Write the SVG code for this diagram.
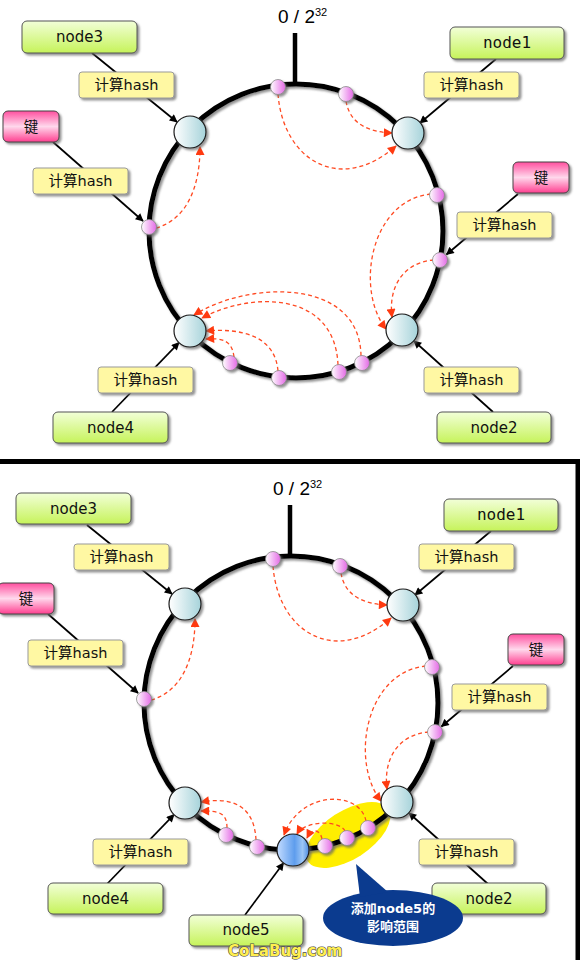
<svg xmlns="http://www.w3.org/2000/svg" width="580" height="960" viewBox="0 0 580 960">
<defs>
<linearGradient id="gg" x1="0" y1="0" x2="0" y2="1"><stop offset="0" stop-color="#f2ffd8"/><stop offset="1" stop-color="#c6f35a"/></linearGradient>
<linearGradient id="gk" x1="0" y1="0" x2="0" y2="1"><stop offset="0" stop-color="#ff4f9f"/><stop offset="0.5" stop-color="#ffd8ec"/><stop offset="1" stop-color="#ff3f90"/></linearGradient>
<linearGradient id="gc" x1="0" y1="0" x2="1" y2="0"><stop offset="0" stop-color="#ffffff"/><stop offset="1" stop-color="#a6d3da"/></linearGradient>
<linearGradient id="gb" x1="0" y1="0" x2="1" y2="0"><stop offset="0" stop-color="#c4dcff"/><stop offset="0.55" stop-color="#5e9ded"/><stop offset="0.8" stop-color="#9cc6f6"/><stop offset="1" stop-color="#4d8be0"/></linearGradient>
<linearGradient id="gp" x1="0" y1="0" x2="1" y2="0"><stop offset="0" stop-color="#ffffff"/><stop offset="1" stop-color="#e46ae6"/></linearGradient>
<filter id="ds" x="-20%" y="-20%" width="150%" height="150%"><feDropShadow dx="2" dy="2" stdDeviation="1" flood-color="#666" flood-opacity="0.7"/></filter>
<marker id="ab" viewBox="0 0 10 10" refX="9" refY="5" markerWidth="9" markerHeight="8" markerUnits="userSpaceOnUse" orient="auto"><path d="M0,0 L10,5 L0,10 z" fill="#000"/></marker>
<marker id="ar" viewBox="0 0 10 10" refX="9" refY="5" markerWidth="10" markerHeight="9" markerUnits="userSpaceOnUse" orient="auto"><path d="M0,0 L10,5 L0,10 z" fill="#ff3a10"/></marker>
</defs>
<style>
.ring{fill:none;stroke:#000;stroke-width:5}
.stick{stroke:#000;stroke-width:4.5}
.blk{fill:none;stroke:#000;stroke-width:1.7;marker-end:url(#ab)}
.red{fill:none;stroke:#ff4a22;stroke-width:1.3;stroke-dasharray:4 3;marker-end:url(#ar)}
.nc{fill:url(#gc);stroke:#1a1a1a;stroke-width:1.2}
.n5{fill:url(#gb);stroke:#1a1a1a;stroke-width:1.2}
.pk{fill:url(#gp);stroke:#8a8a8a;stroke-width:0.8}
.gbx{fill:url(#gg);stroke:#555;stroke-width:1}
.hb{fill:#fff8a3;stroke:#9a9a9a;stroke-width:1}
.kb{fill:url(#gk);stroke:#444;stroke-width:1}
.sh{filter:url(#ds)}
.t{font-family:"DejaVu Sans","Noto Sans CJK SC",sans-serif;font-size:15px;fill:#111;text-anchor:middle}
.th{font-size:14.5px}
.tm{font-family:"DejaVu Sans Mono","Liberation Mono",monospace;font-size:16px}
.zt{font-family:"Liberation Sans",Arial,sans-serif;font-size:19px;fill:#000}
</style>

<!-- panel border -->
<path d="M0,461.5 H578 V960" fill="none" stroke="#000" stroke-width="5"/>

<!-- ===== TOP DIAGRAM ===== -->
<g id="ring-top">
<circle cx="296" cy="231" r="147" class="ring sh"/>
<line x1="295" y1="33" x2="295" y2="85" class="stick"/>
<text x="278" y="23" class="zt">0 / 2<tspan dy="-7" font-size="11">32</tspan></text>
</g>

<g id="connectors-top">
<path d="M92,53 L177,122" class="blk"/>
<path d="M496,59 L420,123" class="blk"/>
<path d="M53,142 L143,221" class="blk"/>
<path d="M518,194 L446.5,254.5" class="blk"/>
<path d="M112,412 L179,342.6" class="blk"/>
<path d="M493,412 L414,341" class="blk"/>
<path d="M278,94 C283,160 340,195 396,146" class="red"/>
<path d="M346,101 C350,125 370,132 392,133" class="red"/>
<path d="M156,228 C185,220 200,190 200,147" class="red"/>
<path d="M431,194 C370,200 355,290 386,329" class="red"/>
<path d="M434,260 C405,262 388,285 392,317" class="red"/>
<path d="M234,357 C232,340 222,338 206,339" class="red"/>
<path d="M278,371 C275,335 240,328 206,331" class="red"/>
<path d="M338,365 C335,290 250,292 202,318" class="red"/>
<path d="M361,356 C360,278 250,280 194,315" class="red"/>
</g>

<g id="points-top">
<circle cx="278" cy="87" r="7.5" class="pk sh"/>
<circle cx="346" cy="94" r="7.5" class="pk sh"/>
<circle cx="149" cy="227" r="7.5" class="pk sh"/>
<circle cx="437" cy="195" r="7.5" class="pk sh"/>
<circle cx="440" cy="260" r="7.5" class="pk sh"/>
<circle cx="230" cy="363" r="7.5" class="pk sh"/>
<circle cx="279" cy="378" r="7.5" class="pk sh"/>
<circle cx="339" cy="372" r="7.5" class="pk sh"/>
<circle cx="362" cy="363" r="7.5" class="pk sh"/>
</g>

<g id="node3-top"><circle cx="190" cy="132" r="16" class="nc sh"/><rect x="22" y="21" width="115" height="32" rx="5" class="gbx sh"/><text x="79.5" y="42" class="t">node3</text></g>
<g id="node1-top"><circle cx="408" cy="133" r="16" class="nc sh"/><rect x="450" y="27" width="114" height="32" rx="5" class="gbx sh"/><text x="507" y="48" class="t tm">node1</text></g>
<g id="node4-top"><circle cx="190" cy="331" r="16" class="nc sh"/><rect x="53" y="412" width="115" height="31" rx="5" class="gbx sh"/><text x="110.5" y="433" class="t">node4</text></g>
<g id="node2-top"><circle cx="402" cy="330" r="16" class="nc sh"/><rect x="437" y="412" width="114" height="31" rx="5" class="gbx sh"/><text x="494" y="433" class="t">node2</text></g>
<g id="keyL-top"><rect x="3" y="111" width="56" height="31" rx="5" class="kb sh"/><text x="31" y="132" class="t th">键</text></g>
<g id="keyR-top"><rect x="513" y="162" width="56" height="31" rx="5" class="kb sh"/><text x="541" y="183" class="t th">键</text></g>
<g id="hashA-top"><rect x="79" y="72" width="95" height="26" rx="3" class="hb sh"/><text x="126.5" y="90" class="t th">计算hash</text></g>
<g id="hashB-top"><rect x="424" y="72" width="95" height="26" rx="3" class="hb sh"/><text x="471.5" y="90" class="t th">计算hash</text></g>
<g id="hashC-top"><rect x="33" y="168" width="95" height="26" rx="3" class="hb sh"/><text x="80.5" y="186" class="t th">计算hash</text></g>
<g id="hashD-top"><rect x="457" y="212" width="95" height="26" rx="3" class="hb sh"/><text x="504.5" y="230" class="t th">计算hash</text></g>
<g id="hashE-top"><rect x="98" y="367" width="95" height="26" rx="3" class="hb sh"/><text x="145.5" y="385" class="t th">计算hash</text></g>
<g id="hashF-top"><rect x="424" y="367" width="95" height="26" rx="3" class="hb sh"/><text x="471.5" y="385" class="t th">计算hash</text></g>

<!-- ===== BOTTOM DIAGRAM ===== -->
<ellipse id="range" cx="348" cy="835" rx="48" ry="24" transform="rotate(-33 348 835)" fill="#ffee00"/>

<g id="ring-bottom">
<circle cx="291" cy="703" r="147" class="ring sh"/>
<line x1="290" y1="505" x2="290" y2="557" class="stick"/>
<text x="273" y="495" class="zt">0 / 2<tspan dy="-7" font-size="11">32</tspan></text>
</g>

<g id="connectors-bottom">
<path d="M87,525 L172,594" class="blk"/>
<path d="M491,531 L415,595" class="blk"/>
<path d="M48,614 L138,693" class="blk"/>
<path d="M513,666 L441.5,726.5" class="blk"/>
<path d="M107,884 L174,814.6" class="blk"/>
<path d="M488,884 L409,813" class="blk"/>
<path d="M245,915 L283.5,863" class="blk"/>
<path d="M273,566 C278,632 335,667 391,618" class="red"/>
<path d="M341,573 C345,597 365,604 387,605" class="red"/>
<path d="M151,700 C180,692 195,662 195,619" class="red"/>
<path d="M426,666 C365,672 350,762 381,801" class="red"/>
<path d="M429,732 C400,734 383,757 387,789" class="red"/>
<path d="M227,828 C227,812 218,811 201,811" class="red"/>
<path d="M256,840 C254,800 225,798 201,802" class="red"/>
<path d="M366,821 C360,790 300,790 284,835" class="red"/>
<path d="M345,831 C340,820 305,820 297,834" class="red"/>
<path d="M322,839 C320,829 312,828 307,838" class="red"/>
</g>

<g id="points-bottom">
<circle cx="273" cy="559" r="7.5" class="pk sh"/>
<circle cx="340" cy="566" r="7.5" class="pk sh"/>
<circle cx="144" cy="699" r="7.5" class="pk sh"/>
<circle cx="432" cy="667" r="7.5" class="pk sh"/>
<circle cx="435" cy="732" r="7.5" class="pk sh"/>
<circle cx="226" cy="835" r="7.5" class="pk sh"/>
<circle cx="257" cy="847" r="7.5" class="pk sh"/>
<circle cx="325" cy="846" r="7.5" class="pk sh"/>
<circle cx="347" cy="838" r="7.5" class="pk sh"/>
<circle cx="368" cy="828" r="7.5" class="pk sh"/>
</g>

<g id="node3-bottom"><circle cx="185" cy="604" r="16" class="nc sh"/><rect x="16" y="493" width="115" height="31" rx="5" class="gbx sh"/><text x="73.5" y="514" class="t">node3</text></g>
<g id="node1-bottom"><circle cx="403" cy="605" r="16" class="nc sh"/><rect x="444" y="499" width="114" height="32" rx="5" class="gbx sh"/><text x="501" y="520" class="t tm">node1</text></g>
<g id="node4-bottom"><circle cx="185" cy="803" r="16" class="nc sh"/><rect x="48" y="883" width="115" height="31" rx="5" class="gbx sh"/><text x="105.5" y="904" class="t">node4</text></g>
<g id="node2-bottom"><circle cx="397" cy="802" r="16" class="nc sh"/><rect x="432" y="883" width="114" height="31" rx="5" class="gbx sh"/><text x="489" y="904" class="t">node2</text></g>
<g id="node5-bottom"><circle cx="293" cy="850" r="16" class="n5 sh"/><rect x="189" y="915" width="114" height="31" rx="5" class="gbx sh"/><text x="246" y="935" class="t">node5</text></g>
<g id="keyL-bottom"><rect x="-2" y="583" width="56" height="31" rx="5" class="kb sh"/><text x="26" y="604" class="t th">键</text></g>
<g id="keyR-bottom"><rect x="508" y="634" width="56" height="31" rx="5" class="kb sh"/><text x="536" y="655" class="t th">键</text></g>
<g id="hashA-bottom"><rect x="74" y="544" width="95" height="26" rx="3" class="hb sh"/><text x="121.5" y="562" class="t th">计算hash</text></g>
<g id="hashB-bottom"><rect x="419" y="544" width="95" height="26" rx="3" class="hb sh"/><text x="466.5" y="562" class="t th">计算hash</text></g>
<g id="hashC-bottom"><rect x="28" y="640" width="95" height="26" rx="3" class="hb sh"/><text x="75.5" y="658" class="t th">计算hash</text></g>
<g id="hashD-bottom"><rect x="452" y="684" width="95" height="26" rx="3" class="hb sh"/><text x="499.5" y="702" class="t th">计算hash</text></g>
<g id="hashE-bottom"><rect x="93" y="839" width="95" height="26" rx="3" class="hb sh"/><text x="140.5" y="857" class="t th">计算hash</text></g>
<g id="hashF-bottom"><rect x="419" y="839" width="95" height="26" rx="3" class="hb sh"/><text x="466.5" y="857" class="t th">计算hash</text></g>

<g id="callout">
<ellipse cx="393" cy="918" rx="70" ry="28" fill="#0b3b8f"/>
<path d="M356,864 L360,897 L388,892 Z" fill="#0b3b8f"/>
<text x="393" y="913" class="t" style="fill:#fff;font-weight:bold;font-size:13px">添加node5的</text>
<text x="393" y="931" class="t" style="fill:#fff;font-weight:bold;font-size:13px">影响范围</text>
</g>

<text id="watermark" x="228" y="956" style="font-family:'DejaVu Sans',sans-serif;font-weight:bold;font-size:15px;fill:#ffef50;stroke:#444;stroke-width:1.2;paint-order:stroke">CoLaBug.com</text>
</svg>
